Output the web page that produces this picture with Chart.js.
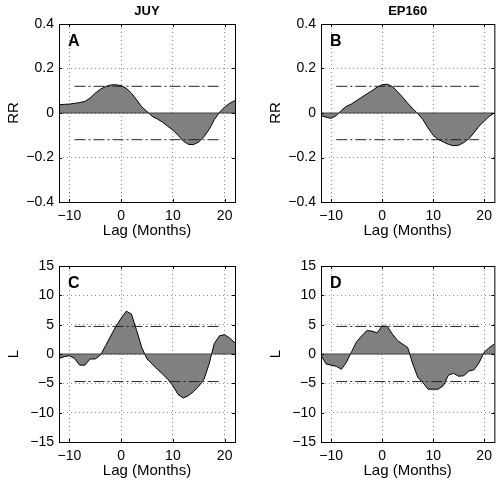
<!DOCTYPE html>
<html>
<head>
<meta charset="utf-8">
<script src="https://cdn.jsdelivr.net/npm/chart.js@4.4.1/dist/chart.umd.min.js"></script>
<style>
  body { margin: 0; background: #fff; }
  #wrap { position: relative; width: 498px; height: 491px; }
  canvas { position: absolute; }
</style>
</head>
<body>
<div id="wrap">
  <canvas id="cA" width="249" height="245" style="left:0px;top:0px"></canvas>
  <canvas id="cB" width="249" height="245" style="left:249px;top:0px"></canvas>
  <canvas id="cC" width="249" height="246" style="left:0px;top:245px"></canvas>
  <canvas id="cD" width="249" height="246" style="left:249px;top:245px"></canvas>
</div>
<script>
// lag axis (months)
const lags = [-12, -11, -10, -9, -8, -7, -6, -5, -4, -3, -2, -1, 0, 1, 2, 3, 4, 5, 6, 7, 8, 9, 10, 11, 12, 13, 14, 15, 16, 17, 18, 19, 20, 21, 22];
const lagTicks = [-10, 0, 10, 20];
const bandLags = [-9, 19];

// A: JUY, RR
const juyRR = [0.037, 0.039, 0.040, 0.043, 0.047, 0.052, 0.067, 0.089, 0.107, 0.119, 0.126, 0.127, 0.123, 0.111, 0.089, 0.059, 0.027, 0.007, -0.015, -0.027, -0.041, -0.059, -0.077, -0.100, -0.126, -0.141, -0.142, -0.130, -0.107, -0.074, -0.030, 0.003, 0.027, 0.044, 0.056];
// B: EP160, RR
const ep160RR = [-0.012, -0.019, -0.024, -0.012, 0.012, 0.030, 0.041, 0.056, 0.071, 0.086, 0.100, 0.116, 0.127, 0.129, 0.119, 0.096, 0.071, 0.044, 0.019, -0.003, -0.030, -0.067, -0.100, -0.119, -0.130, -0.141, -0.147, -0.145, -0.133, -0.116, -0.089, -0.059, -0.037, -0.015, 0.000];
// C: JUY, L
const juyL = [-0.75, -0.45, -0.3, -0.75, -1.9, -1.9, -0.85, -0.85, -0.2, 1.4, 3.1, 4.7, 6.1, 7.3, 6.8, 4.0, 1.1, -0.85, -1.7, -2.6, -3.4, -4.3, -5.4, -6.9, -7.5, -7.1, -6.4, -5.5, -4.3, -1.7, 1.8, 3.1, 3.3, 2.7, 1.9];
// D: EP160, L
const ep160L = [-0.2, -1.7, -1.9, -2.1, -2.6, -1.4, 0.4, 2.1, 3.1, 4.0, 3.9, 3.6, 4.8, 4.7, 3.4, 2.3, 1.7, 1.1, -1.7, -4.0, -4.9, -6.0, -6.0, -6.0, -5.4, -3.6, -3.3, -3.8, -3.7, -2.9, -2.7, -1.5, 0.3, 1.1, 1.7];

// significance levels
const rrBand = [0.12, -0.12];
const lBand = [4.7, -4.7];

const rrTicks = [-0.4, -0.2, 0, 0.2, 0.4];
const lTicks = [-15, -10, -5, 0, 5, 10, 15];

Chart.defaults.font.family = '"Liberation Sans", Arial, Helvetica, sans-serif';
Chart.defaults.color = '#000';

function fmt(v) {
  return String(v).replace('-', '\u2212');
}

const panelDecor = {
  id: 'panelDecor',
  afterDatasetsDraw(chart, args, o) {
    const ctx = chart.ctx;
    const a = chart.chartArea;
    const xs = chart.scales.x, ys = chart.scales.y;
    ctx.save();
    ctx.strokeStyle = '#000';
    ctx.lineWidth = 1;
    ctx.strokeRect(a.left + 0.5, a.top + 0.5, a.right - a.left, a.bottom - a.top);
    ctx.beginPath();
    o.xTicks.forEach(v => {
      const px = Math.round(xs.getPixelForValue(v)) + 0.5;
      ctx.moveTo(px, a.bottom); ctx.lineTo(px, a.bottom - 3);
      ctx.moveTo(px, a.top); ctx.lineTo(px, a.top + 3);
    });
    o.yTicks.forEach(v => {
      const py = Math.round(ys.getPixelForValue(v)) + 0.5;
      ctx.moveTo(a.left, py); ctx.lineTo(a.left + 3, py);
      ctx.moveTo(a.right, py); ctx.lineTo(a.right - 3, py);
    });
    ctx.stroke();
    ctx.restore();
  },
  afterDraw(chart, args, o) {
    const ctx = chart.ctx;
    const a = chart.chartArea;
    ctx.save();
    ctx.fillStyle = '#000';
    ctx.textBaseline = 'middle';
    if (o.title) {
      ctx.font = 'bold 13px "Liberation Sans", Arial, sans-serif';
      ctx.textAlign = 'center';
      ctx.fillText(o.title, (a.left + a.right) / 2, a.top - 13);
    }
    ctx.font = 'bold 16px "Liberation Sans", Arial, sans-serif';
    ctx.textAlign = 'left';
    ctx.fillText(o.letter, a.left + 9, a.top + 18);

    ctx.font = '15px "Liberation Sans", Arial, sans-serif';
    ctx.textAlign = 'center';
    ctx.fillText('Lag (Months)', (a.left + a.right) / 2, a.bottom + 29);
    ctx.translate(a.left - 45, (a.top + a.bottom) / 2);
    ctx.rotate(-Math.PI / 2);
    ctx.fillText(o.yTitle, 0, 0);
    ctx.restore();
  }
};

function makePanel(id, area, h, series, band, yTicks, yTitle, title, letter) {
  const curve = lags.map((x, i) => ({ x: x, y: series[i] }));
  const zero = [{ x: lags[0], y: 0 }, { x: lags[lags.length - 1], y: 0 }];
  const up = bandLags.map(x => ({ x: x, y: band[0] }));
  const down = bandLags.map(x => ({ x: x, y: band[1] }));
  const dash = {
    borderColor: '#222', borderWidth: 1, borderDash: [11, 3, 2, 3],
    pointRadius: 0, fill: false, order: 1
  };

  return new Chart(document.getElementById(id), {
    type: 'line',
    data: {
      datasets: [
        { data: curve, borderColor: '#000', borderWidth: 1, backgroundColor: '#808080',
          fill: 'origin', pointRadius: 0, tension: 0, order: 3 },
        { data: zero, borderColor: '#444', borderWidth: 1, pointRadius: 0, fill: false, order: 2 },
        Object.assign({ data: up }, dash),
        Object.assign({ data: down }, dash)
      ]
    },
    options: {
      responsive: false,
      animation: false,
      devicePixelRatio: 1,
      layout: { padding: { top: area.t, right: 249 - area.r, left: 0, bottom: 0 } },
      plugins: {
        legend: { display: false },
        tooltip: { enabled: false },
        panelDecor: { xTicks: lagTicks, yTicks: yTicks, yTitle: yTitle, title: title, letter: letter }
      },
      scales: {
        x: {
          type: 'linear', min: -12, max: 22,
          afterBuildTicks: s => { s.ticks = lagTicks.map(v => ({ value: v })); },
          afterFit: s => { s.height = h - area.b; },
          ticks: { callback: v => fmt(v), font: { size: 14 }, padding: 6, maxRotation: 0 },
          grid: { color: '#8c8c8c', drawTicks: false, lineWidth: 1 },
          border: { display: false, dash: [1, 3] }
        },
        y: {
          type: 'linear', min: yTicks[0], max: yTicks[yTicks.length - 1],
          afterBuildTicks: s => { s.ticks = yTicks.map(v => ({ value: v })); },
          afterFit: s => { s.width = area.l; },
          ticks: { callback: v => fmt(v), font: { size: 14 }, padding: 5 },
          grid: { color: '#8c8c8c', drawTicks: false, lineWidth: 1 },
          border: { display: false, dash: [1, 3] }
        }
      }
    },
    plugins: [panelDecor]
  });
}

makePanel('cA', { l: 59, t: 24, r: 235, b: 202 }, 245, juyRR, rrBand, rrTicks, 'RR', 'JUY', 'A');
makePanel('cB', { l: 72, t: 24, r: 248, b: 202 }, 245, ep160RR, rrBand, rrTicks, 'RR', 'EP160', 'B');
makePanel('cC', { l: 59, t: 21, r: 235, b: 197 }, 246, juyL, lBand, lTicks, 'L', null, 'C');
makePanel('cD', { l: 72, t: 21, r: 248, b: 197 }, 246, ep160L, lBand, lTicks, 'L', null, 'D');
</script>
</body>
</html>
